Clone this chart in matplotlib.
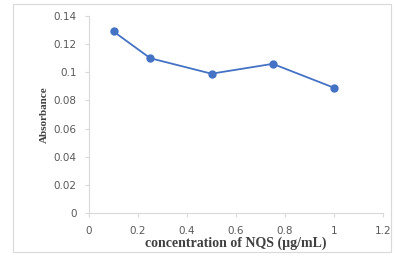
import matplotlib
matplotlib.use("Agg")
import matplotlib.pyplot as plt
from matplotlib.patches import Rectangle

# concentration of NQS (ug/mL) vs absorbance
conc = [0.1, 0.25, 0.5, 0.75, 1.0]
absorbance = [0.129, 0.110, 0.099, 0.106, 0.089]
xticks = [0, 0.2, 0.4, 0.6, 0.8, 1, 1.2]
yticks = [0, 0.02, 0.04, 0.06, 0.08, 0.1, 0.12, 0.14]

fig = plt.figure(figsize=(3.95, 2.62), dpi=100)
# outer chart frame, like the Excel chart area
fig.patches.append(Rectangle((13 / 395, 10 / 262), 378 / 395, 248 / 262,
                             transform=fig.transFigure, fill=False,
                             edgecolor="#d9d9d9", linewidth=0.8))

ax = fig.add_axes([89 / 395, 49 / 262, 294 / 395, 197 / 262])
ax.plot(conc, absorbance, color="#4472c4", linewidth=1.3,
        marker="o", markersize=5)

ax.set_xlim(0, 1.2)
ax.set_ylim(0, 0.14)
ax.set_xticks(xticks)
ax.set_xticklabels([str(t) for t in xticks])
ax.set_yticks(yticks)
ax.set_yticklabels([str(t) for t in yticks])

for s in ["top", "right"]:
    ax.spines[s].set_visible(False)
for s in ["left", "bottom"]:
    ax.spines[s].set_color("#d9d9d9")
    ax.spines[s].set_linewidth(0.8)
ax.tick_params(colors="#d9d9d9", labelcolor="#595959", labelsize=7.5,
               length=3, width=0.8, pad=6)

ax.set_xlabel("concentration of NQS (\u00b5g/mL)", family="Liberation Serif",
              fontweight="bold", fontsize=10, color="#404040", labelpad=1)
ax.set_ylabel("Absorbance", family="Liberation Serif", fontweight="bold",
              fontsize=8, color="#404040", labelpad=3)

fig.savefig("out.png", dpi=100)
